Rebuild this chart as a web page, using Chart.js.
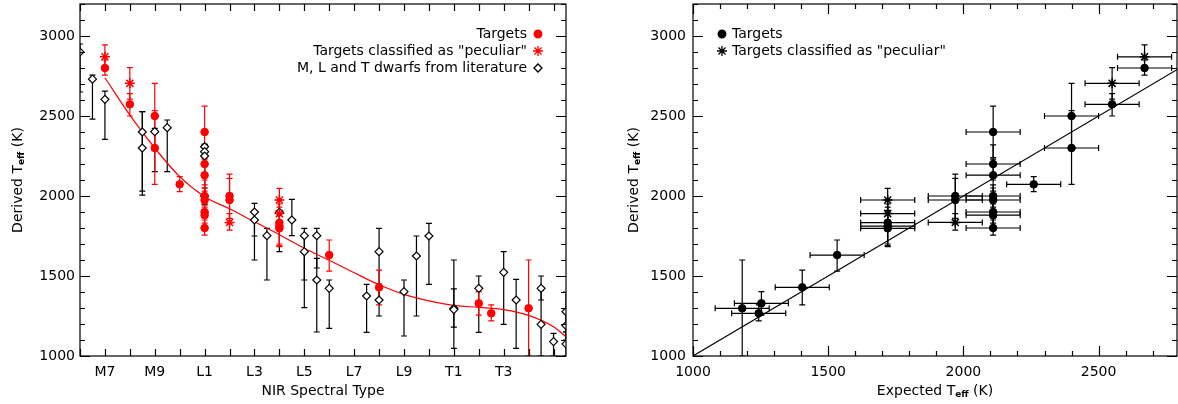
<!DOCTYPE html>
<html lang="en">
<head>
<meta charset="UTF-8">
<title>Derived vs expected Teff</title>
<script src="https://cdn.jsdelivr.net/npm/chart.js"></script>
<style>
  body { margin: 0; background: #fff; overflow: hidden; }
  .wrap { position: relative; width: 1178px; height: 404px; }
  #leftChart { position: absolute; left: 0; top: 0; }
  #rightChart { position: absolute; left: 600px; top: 0; }
</style>
</head>
<body>
<div class="wrap">
  <canvas id="leftChart" width="590" height="404"></canvas>
  <canvas id="rightChart" width="578" height="404"></canvas>
</div>
<script>
// spectral type as number: M0 = 0 ... M9 = 9, L0 = 10 ... L9 = 19, T0 = 20
const sptTicks = [7, 9, 11, 13, 15, 17, 19, 21, 23];
const sptLabels = ['M7', 'M9', 'L1', 'L3', 'L5', 'L7', 'L9', 'T1', 'T3'];
const teffTicks = [1000, 1500, 2000, 2500, 3000];
const expTicks = [1000, 1500, 2000, 2500];

// Targets (filled circles)
const tgtType = [7, 8, 9, 9, 10, 11, 11, 11, 11, 11, 11, 11, 11, 12, 12, 14, 14, 14, 16, 18, 22, 22.5, 24];
const tgtTeff = [2800, 2573, 2500, 2300, 2073, 2400, 2200, 2130, 2000, 1975, 1900, 1880, 1800, 2000, 1975, 1833, 1812, 1798, 1631, 1429, 1329, 1267, 1298];
const tgtLo   = [2756, 2500, 2300, 2073, 2027, 2240, 2100, 2030, 1930, 1900, 1830, 1810, 1756, 1860, 1830, 1700, 1690, 1683, 1531, 1319, 1256, 1219, 1000];
const tgtHi   = [2850, 2640, 2704, 2533, 2121, 2562, 2320, 2230, 2070, 2050, 1970, 1950, 1850, 2137, 2110, 1950, 1930, 1910, 1725, 1537, 1402, 1319, 1600];
const tgtExpected = [2670, 2550, 2400, 2400, 2260, 2110, 2110, 2110, 2110, 2110, 2110, 2110, 2110, 1970, 1970, 1720, 1720, 1720, 1533, 1404, 1253, 1243, 1182];

// Targets classified as "peculiar" (asterisks)
const pecType = [7, 8, 12, 14, 14];
const pecTeff = [2870, 2704, 1835, 1975, 1890];
const pecLo   = [2795, 2606, 1787, 1900, 1800];
const pecHi   = [2944, 2802, 1890, 2048, 1975];
const pecExpected = [2670, 2550, 1970, 1720, 1720];

const expectedErr = 100;

// M, L and T dwarfs from literature (open diamonds)
const litType = [6, 6.5, 7, 8.5, 8.5, 9, 9.5, 11, 11, 11, 11, 13, 13, 13.5, 14, 14.5, 15, 15, 15.5, 15.5, 16, 17.5, 18, 18, 19, 19.5, 20, 21, 21, 22, 23, 23.5, 24.5, 24.5, 25, 25.5, 25.5, 25.5];
const litTeff = [2900, 2730, 2604, 2400, 2300, 2402, 2427, 2308, 2277, 2250, 2000, 1900, 1850, 1752, 1898, 1850, 1752, 1652, 1752, 1475, 1423, 1375, 1652, 1350, 1402, 1625, 1750, 1298, 1290, 1423, 1523, 1350, 1423, 1198, 1090, 1277, 1190, 1075];
const litLo   = [2650, 2480, 2354, 2030, 2006, 2152, 2152, 2000, 2000, 1950, 1944, 1750, 1600, 1475, 1652, 1752, 1302, 1475, 1550, 1150, 1173, 1148, 1350, 1250, 1125, 1250, 1448, 1048, 1180, 1148, 1198, 1048, 1350, 1000, 1000, 1150, 1100, 1000];
const litHi   = [2950, 2756, 2656, 2527, 2527, 2423, 2475, 2323, 2323, 2320, 2050, 1954, 1900, 1798, 1975, 1979, 1798, 1750, 1798, 1610, 1475, 1448, 1798, 1450, 1475, 1750, 1829, 1600, 1420, 1500, 1652, 1479, 1500, 1410, 1142, 1400, 1280, 1150];

// red polynomial fit
const fitType = [7, 8, 9, 10, 11, 12, 13, 14, 15, 16, 17, 18, 19, 20, 21, 22, 23, 24, 25, 25.5];
const fitTeff = [2739, 2506, 2300, 2121, 1996, 1920, 1839, 1758, 1673, 1598, 1520, 1445, 1385, 1345, 1316, 1304, 1290, 1254, 1183, 1121];

// one-to-one line
const oneToOne = [1000, 2800];

const FONT = 'DejaVu Sans';
Chart.defaults.font.family = FONT;
Chart.defaults.font.size = 14;
Chart.defaults.color = '#000';

const pts = (xs, ys) => xs.map((x, i) => ({ x: x, y: ys[i] }));
const noOverflow = { left: 0, top: 0, right: 0, bottom: 0 };

function drawBars(chart, groups) {
  const ctx = chart.ctx, a = chart.chartArea;
  const xs = chart.scales.x, ys = chart.scales.y;
  ctx.save();
  ctx.beginPath();
  ctx.rect(a.left, a.top, a.right - a.left, a.bottom - a.top);
  ctx.clip();
  ctx.lineWidth = 1.2;
  groups.forEach(g => {
    ctx.strokeStyle = g.color;
    g.x.forEach((xv, i) => {
      const px = xs.getPixelForValue(xv);
      const py = ys.getPixelForValue(g.y[i]);
      const y1 = ys.getPixelForValue(g.lo[i]), y2 = ys.getPixelForValue(g.hi[i]);
      ctx.beginPath();
      ctx.moveTo(px, y1); ctx.lineTo(px, y2);
      ctx.moveTo(px - 3, y1); ctx.lineTo(px + 3, y1);
      ctx.moveTo(px - 3, y2); ctx.lineTo(px + 3, y2);
      if (g.xerr) {
        const x1 = xs.getPixelForValue(xv - g.xerr), x2 = xs.getPixelForValue(xv + g.xerr);
        ctx.moveTo(x1, py); ctx.lineTo(x2, py);
        ctx.moveTo(x1, py - 3); ctx.lineTo(x1, py + 3);
        ctx.moveTo(x2, py - 3); ctx.lineTo(x2, py + 3);
      }
      ctx.stroke();
    });
  });
  ctx.restore();
}

// box, inward ticks on all four sides, tick labels
function drawFrame(chart, xMinor, xIsMajor, xMinorLen, xTicks, xLabel, yLabelRight) {
  const ctx = chart.ctx, a = chart.chartArea;
  const xs = chart.scales.x, ys = chart.scales.y;
  ctx.save();
  ctx.strokeStyle = '#000';
  ctx.lineWidth = 1.2;
  ctx.strokeRect(a.left, a.top, a.right - a.left, a.bottom - a.top);
  ctx.beginPath();
  for (let v = 1000; v <= 3200; v += 100) {
    const py = Math.round(ys.getPixelForValue(v)) + 0.5;
    const len = v % 500 === 0 ? 10 : 5;
    ctx.moveTo(a.left, py); ctx.lineTo(a.left + len, py);
    ctx.moveTo(a.right, py); ctx.lineTo(a.right - len, py);
  }
  xMinor.forEach(v => {
    const px = Math.round(xs.getPixelForValue(v)) + 0.5;
    if (px < a.left || px > a.right) return;
    const len = xIsMajor(v) ? 10 : xMinorLen;
    ctx.moveTo(px, a.bottom); ctx.lineTo(px, a.bottom - len);
    ctx.moveTo(px, a.top); ctx.lineTo(px, a.top + len);
  });
  ctx.stroke();

  ctx.fillStyle = '#000';
  ctx.font = '14px ' + FONT;
  ctx.textBaseline = 'middle';
  ctx.textAlign = 'right';
  teffTicks.forEach(v => ctx.fillText(String(v), yLabelRight, ys.getPixelForValue(v)));
  ctx.textAlign = 'center';
  xTicks.forEach((v, i) => ctx.fillText(xLabel(v, i), xs.getPixelForValue(v), 372));
  ctx.restore();
}

// title made of [text, isSubscript] parts
function drawTitle(ctx, parts, cx, cy, rotate) {
  ctx.save();
  ctx.translate(cx, cy);
  if (rotate) ctx.rotate(-Math.PI / 2);
  ctx.fillStyle = '#000';
  ctx.textBaseline = 'middle';
  ctx.textAlign = 'left';
  let total = 0;
  parts.forEach(p => {
    ctx.font = p[1] ? 'bold 9px ' + FONT : '14px ' + FONT;
    total += ctx.measureText(p[0]).width;
  });
  let x = -total / 2;
  parts.forEach(p => {
    ctx.font = p[1] ? 'bold 9px ' + FONT : '14px ' + FONT;
    ctx.fillText(p[0], x, p[1] ? 4 : 0);
    x += ctx.measureText(p[0]).width;
  });
  ctx.restore();
}

function legendRow(ctx, text, align, tx, mx, y, style, color, fill, r) {
  ctx.save();
  ctx.font = '14px ' + FONT;
  ctx.fillStyle = '#000';
  ctx.textAlign = align;
  ctx.textBaseline = 'middle';
  ctx.fillText(text, tx, y);
  ctx.strokeStyle = color;
  ctx.fillStyle = fill;
  ctx.lineWidth = 1.3;
  Chart.helpers.drawPoint(ctx, { pointStyle: style, radius: r, borderWidth: 1.3, rotation: 0 }, mx, y);
  ctx.restore();
}

function zeroPad(s) { s.paddingTop = 0; s.paddingBottom = 0; s.paddingLeft = 0; s.paddingRight = 0; }

const yScale = width => ({
  type: 'linear', min: 1000, max: 3200,
  grid: { display: false }, border: { display: false },
  ticks: { display: false },
  afterFit(s) { s.width = width; zeroPad(s); }
});

// ---------- left panel ----------
new Chart(document.getElementById('leftChart'), {
  type: 'scatter',
  data: {
    datasets: [
      { label: 'Targets', data: pts(tgtType, tgtTeff), pointStyle: 'circle', pointRadius: 3.8,
        backgroundColor: '#ff0000', borderColor: '#ff0000', borderWidth: 1, clip: noOverflow },
      { label: 'Targets classified as "peculiar"', data: pts(pecType, pecTeff), pointStyle: 'star', pointRadius: 5,
        backgroundColor: '#ff0000', borderColor: '#ff0000', borderWidth: 1.5, clip: noOverflow },
      { label: 'M, L and T dwarfs from literature', data: pts(litType, litTeff), pointStyle: 'rectRot', pointRadius: 4,
        backgroundColor: '#ffffff', borderColor: '#000000', borderWidth: 1.2, clip: noOverflow },
      { label: 'fit', type: 'line', data: pts(fitType, fitTeff), borderColor: '#ff0000', borderWidth: 1.2,
        pointRadius: 0, cubicInterpolationMode: 'monotone', fill: false, clip: noOverflow }
    ]
  },
  options: {
    responsive: false, animation: false,
    layout: { autoPadding: false, padding: { top: 4, right: 24, left: 0, bottom: 0 } },
    plugins: { legend: { display: false }, tooltip: { enabled: false } },
    scales: {
      x: {
        type: 'linear', min: 6, max: 25.5,
        grid: { display: false }, border: { display: false },
        ticks: { display: false },
        afterFit(s) { s.height = 48; zeroPad(s); }
      },
      y: yScale(80)
    }
  },
  plugins: [{
    id: 'leftDeco',
    beforeDatasetsDraw(chart) {
      drawBars(chart, [
        { x: litType, y: litTeff, lo: litLo, hi: litHi, color: '#000' },
        { x: tgtType, y: tgtTeff, lo: tgtLo, hi: tgtHi, color: '#ff0000' },
        { x: pecType, y: pecTeff, lo: pecLo, hi: pecHi, color: '#ff0000' }
      ]);
    },
    afterDraw(chart) {
      const ctx = chart.ctx, a = chart.chartArea;
      const minor = [];
      for (let v = 6; v <= 25; v++) minor.push(v);
      drawFrame(chart, minor, () => false, 7, sptTicks, (v, i) => sptLabels[i], 75);
      drawTitle(ctx, [['NIR Spectral Type', false]], (a.left + a.right) / 2, 391, false);
      drawTitle(ctx, [['Derived T', false], ['eff', true], [' (K)', false]], 18, (a.top + a.bottom) / 2, true);
      legendRow(ctx, 'Targets', 'right', 527, 538, 34, 'circle', '#ff0000', '#ff0000', 3.8);
      legendRow(ctx, 'Targets classified as "peculiar"', 'right', 527, 538, 51, 'star', '#ff0000', '#ff0000', 5);
      legendRow(ctx, 'M, L and T dwarfs from literature', 'right', 527, 538, 68, 'rectRot', '#000', '#fff', 4);
    }
  }]
});

// ---------- right panel ----------
new Chart(document.getElementById('rightChart'), {
  type: 'scatter',
  data: {
    datasets: [
      { label: 'Targets', data: pts(tgtExpected, tgtTeff), pointStyle: 'circle', pointRadius: 3.8,
        backgroundColor: '#000', borderColor: '#000', borderWidth: 1, clip: noOverflow },
      { label: 'Targets classified as "peculiar"', data: pts(pecExpected, pecTeff), pointStyle: 'star', pointRadius: 5,
        backgroundColor: '#000', borderColor: '#000', borderWidth: 1.5, clip: noOverflow },
      { label: '1:1', type: 'line', data: pts(oneToOne, oneToOne), borderColor: '#000', borderWidth: 1.1,
        pointRadius: 0, fill: false, clip: noOverflow }
    ]
  },
  options: {
    responsive: false, animation: false,
    layout: { autoPadding: false, padding: { top: 4, right: 1, left: 0, bottom: 0 } },
    plugins: { legend: { display: false }, tooltip: { enabled: false } },
    scales: {
      x: {
        type: 'linear', min: 1000, max: 2790,
        grid: { display: false }, border: { display: false },
        ticks: { display: false },
        afterFit(s) { s.height = 48; zeroPad(s); }
      },
      y: yScale(93)
    }
  },
  plugins: [{
    id: 'rightDeco',
    beforeDatasetsDraw(chart) {
      drawBars(chart, [
        { x: tgtExpected, y: tgtTeff, lo: tgtLo, hi: tgtHi, xerr: expectedErr, color: '#000' },
        { x: pecExpected, y: pecTeff, lo: pecLo, hi: pecHi, xerr: expectedErr, color: '#000' }
      ]);
    },
    afterDraw(chart) {
      const ctx = chart.ctx, a = chart.chartArea;
      const minor = [];
      for (let v = 1000; v <= 2700; v += 100) minor.push(v);
      drawFrame(chart, minor, v => v % 500 === 0, 5, expTicks, v => String(v), 86);
      drawTitle(ctx, [['Expected T', false], ['eff', true], [' (K)', false]], (a.left + a.right) / 2, 391, false);
      drawTitle(ctx, [['Derived T', false], ['eff', true], [' (K)', false]], 34, (a.top + a.bottom) / 2, true);
      legendRow(ctx, 'Targets', 'left', 132, 122, 34, 'circle', '#000', '#000', 3.8);
      legendRow(ctx, 'Targets classified as "peculiar"', 'left', 132, 122, 51, 'star', '#000', '#000', 5);
    }
  }]
});
</script>
</body>
</html>
